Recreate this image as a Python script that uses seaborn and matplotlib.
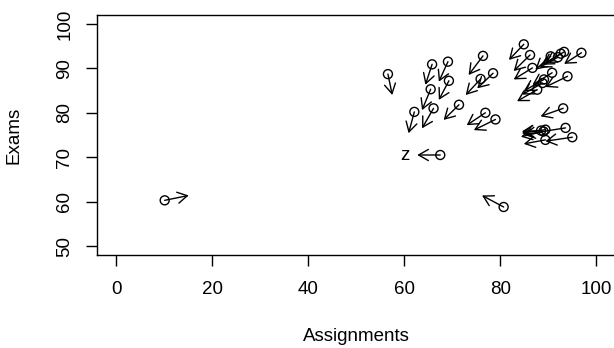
import matplotlib
matplotlib.use("Agg")
import matplotlib.pyplot as plt
import seaborn as sns
import pandas as pd

# Data
assign = [56.6, 65.8, 69.1, 76.4, 69.3, 65.5, 78.5, 75.9, 66.1, 62.1, 71.4, 76.9,
          79.0, 67.5, 84.9, 86.2, 96.9, 93.3, 92.6, 92.0, 90.5, 90.8, 94.0, 88.8,
          87.7, 86.7, 89.1, 93.1, 93.6, 95.0, 89.4, 89.4, 89.0, 88.5, 10.1, 80.7]
exams = [88.7, 90.9, 91.5, 92.8, 87.2, 85.3, 88.9, 87.6, 81.0, 80.2, 81.8, 80.0,
         78.5, 70.5, 95.4, 93.0, 93.5, 93.7, 93.3, 92.5, 92.7, 89.0, 88.2, 86.7,
         85.2, 90.1, 87.5, 81.0, 76.6, 74.5, 73.9, 76.2, 75.8, 76.0, 60.3, 58.8]
assign_end = [57.5, 64.4, 67.2, 73.4, 67.2, 63.7, 75.2, 72.8, 63.7, 60.9, 68.2, 73.0,
              74.5, 62.7, 81.8, 82.8, 93.3, 89.4, 88.8, 88.2, 87.3, 86.7, 89.4, 84.6,
              83.5, 82.8, 84.9, 88.4, 84.9, 89.4, 84.9, 84.5, 84.3, 84.5, 15.1, 76.2]
exams_end = [84.0, 86.3, 87.0, 88.5, 82.9, 80.6, 85.5, 84.0, 76.5, 75.4, 78.4, 77.2,
             76.1, 70.5, 91.9, 89.4, 91.0, 91.2, 90.8, 90.2, 89.7, 86.3, 85.8, 84.1,
             82.6, 87.5, 84.9, 79.2, 75.1, 73.6, 73.0, 75.4, 74.6, 75.8, 61.4, 61.4]
label_text = "z"
label_pos = (60.2, 70.3)
xticks = [0, 20, 40, 60, 80, 100]
yticks = [50, 60, 70, 80, 90, 100]

df = pd.DataFrame({"Assignments": assign, "Exams": exams})

sns.set_theme(style="ticks")
plt.rcParams["font.family"] = ["Liberation Sans", "DejaVu Sans"]
plt.rcParams["text.color"] = "black"
plt.rcParams["axes.labelcolor"] = "black"

FS = 13.5

fig = plt.figure(figsize=(6.14, 3.48), dpi=100)
ax = fig.add_axes([97 / 614, 1 - 255 / 348, 518.5 / 614, 240 / 348])

sns.scatterplot(data=df, x="Assignments", y="Exams", ax=ax, s=42,
                facecolors="none", edgecolor="black", linewidth=1.0,
                marker="o", zorder=3)
for coll in ax.collections:
    coll.set_facecolor("none")
    coll.set_edgecolor("black")

for x0, y0, x1, y1 in zip(assign, exams, assign_end, exams_end):
    ax.annotate("", xy=(x1, y1), xytext=(x0, y0),
                arrowprops=dict(arrowstyle="->,head_length=0.7,head_width=0.4",
                                color="black", lw=1.0, shrinkA=0, shrinkB=0,
                                mutation_scale=10))

ax.text(label_pos[0], label_pos[1], label_text, ha="center", va="center",
        fontsize=FS, color="black")

ax.set_xlim(-4, 104)
ax.set_ylim(48, 102)
ax.set_xticks(xticks)
ax.set_yticks(yticks)
ax.set_xticklabels([str(t) for t in xticks])
ax.set_yticklabels([str(t) for t in yticks])
ax.tick_params(axis="both", direction="out", length=8, width=1, color="black",
               labelsize=FS, labelcolor="black")
ax.tick_params(axis="x", pad=11)
ax.tick_params(axis="y", pad=9)
for lab in ax.get_yticklabels():
    lab.set_rotation(90)
    lab.set_va("center")
    lab.set_ha("right")

for sp in ax.spines.values():
    sp.set_visible(True)
    sp.set_color("black")
    sp.set_linewidth(1.0)

ax.set_xlabel("Assignments", fontsize=FS, color="black")
ax.set_ylabel("Exams", fontsize=FS, color="black")
ax.xaxis.set_label_coords(0.5, -0.305)
ax.yaxis.set_label_coords(-0.143, 0.5)
ax.grid(False)

fig.savefig("out.png", dpi=100, facecolor="white")
